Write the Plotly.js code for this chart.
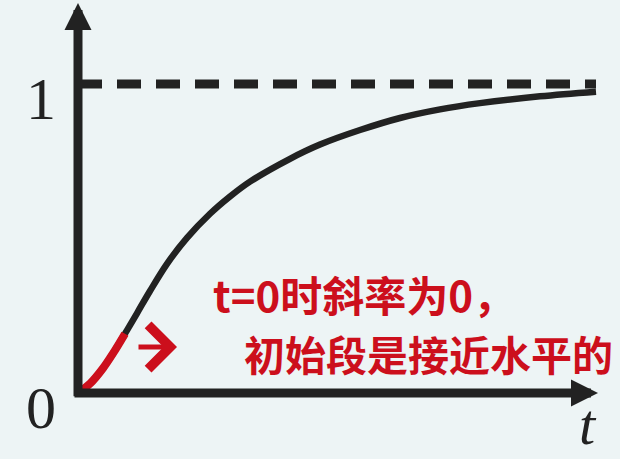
<!DOCTYPE html>
<html>
<head>
<meta charset="utf-8">
<script src="https://cdn.plot.ly/plotly-3.0.1.min.js"></script>
<style>
  html, body { margin: 0; padding: 0; background: #edf4f5; }
  #chart { width: 620px; height: 459px; }
</style>
</head>
<body>
<div id="chart"></div>
<script>
// courbe de réponse
var tVals = [0, 0.12, 0.25, 0.35, 0.47, 0.59, 0.72, 0.89, 1.09, 1.32, 1.52, 1.72,
             2.12, 2.42, 2.82, 3.22, 3.62, 4.02, 4.62, 5.18];
var yVals = [0, 0.03, 0.08, 0.128, 0.192, 0.258, 0.33, 0.418, 0.502, 0.580, 0.636, 0.684,
             0.758, 0.804, 0.851, 0.890, 0.918, 0.938, 0.960, 0.975];

// segment initial surligné en rouge
var tDebut = [0, 0.12, 0.25, 0.35, 0.47];
var yDebut = [0, 0.03, 0.08, 0.128, 0.192];

// asymptote y = 1
var tAsym = [0, 5.18];
var yAsym = [1, 1];

var tickLabels = ['0', '1'];
var note1 = 't=0时斜率为0，';
var note2 = '初始段是接近水平的';

var noir = '#222222';
var rouge = '#cc0f1c';

var asymptote = {
    x: tAsym, y: yAsym,
    mode: 'lines',
    line: {color: noir, width: 9, dash: '24px,15px'},
    hoverinfo: 'skip'
};

var courbe = {
    x: tVals, y: yVals,
    mode: 'lines',
    line: {color: noir, width: 6.5, shape: 'spline', smoothing: 1},
    hoverinfo: 'skip'
};

var debut = {
    x: tDebut, y: yDebut,
    mode: 'lines',
    line: {color: rouge, width: 8, shape: 'spline', smoothing: 1},
    hoverinfo: 'skip'
};

var serif = {family: 'Liberation Serif', size: 60, color: noir};

var layout = {
    width: 620,
    height: 459,
    margin: {l: 0, r: 0, t: 0, b: 0, pad: 0},
    paper_bgcolor: '#edf4f5',
    plot_bgcolor: '#edf4f5',
    showlegend: false,
    xaxis: {range: [-0.78, 5.42], visible: false, fixedrange: true},
    yaxis: {range: [-0.2136, 1.2718], visible: false, fixedrange: true},
    annotations: [
        // axe des t
        {x: 5.2, y: 0, ax: -0.05, ay: 0, axref: 'x', ayref: 'y', xref: 'x', yref: 'y',
         text: '', showarrow: true, arrowhead: 2, arrowsize: 0.6, arrowwidth: 9, arrowcolor: noir},
        // axe vertical
        {x: 0, y: 1.262, ax: 0, ay: -0.015, axref: 'x', ayref: 'y', xref: 'x', yref: 'y',
         text: '', showarrow: true, arrowhead: 2, arrowsize: 0.6, arrowwidth: 9, arrowcolor: noir},
        // graduations
        {x: -0.37, y: -0.05, xref: 'x', yref: 'y', text: tickLabels[0], showarrow: false, font: serif},
        {x: -0.37, y: 0.95, xref: 'x', yref: 'y', text: tickLabels[1], showarrow: false, font: serif},
        {x: 5.1, y: 0, xref: 'x', yref: 'paper', yanchor: 'bottom', text: '<i>t</i>', showarrow: false,
         font: {family: 'Liberation Serif', size: 58, color: noir}},
        // flèche rouge
        {x: 0.99, y: 0.149, ax: 0.59, ay: 0.149, axref: 'x', ayref: 'y', xref: 'x', yref: 'y',
         text: '', showarrow: true, arrowhead: 4, arrowsize: 1.7, arrowwidth: 5, arrowcolor: rouge},
        // texte manuscrit
        {x: 1.33, y: 0.322, xref: 'x', yref: 'y', xanchor: 'left', text: note1, showarrow: false,
         font: {family: 'Noto Sans CJK SC', size: 42, color: rouge, weight: 'bold'}},
        {x: 1.64, y: 0.128, xref: 'x', yref: 'y', xanchor: 'left', text: note2, showarrow: false,
         font: {family: 'Noto Sans CJK SC', size: 41, color: rouge, weight: 'bold'}}
    ]
};

Plotly.newPlot('chart', [asymptote, courbe, debut], layout, {displayModeBar: false, staticPlot: true});
</script>
</body>
</html>
